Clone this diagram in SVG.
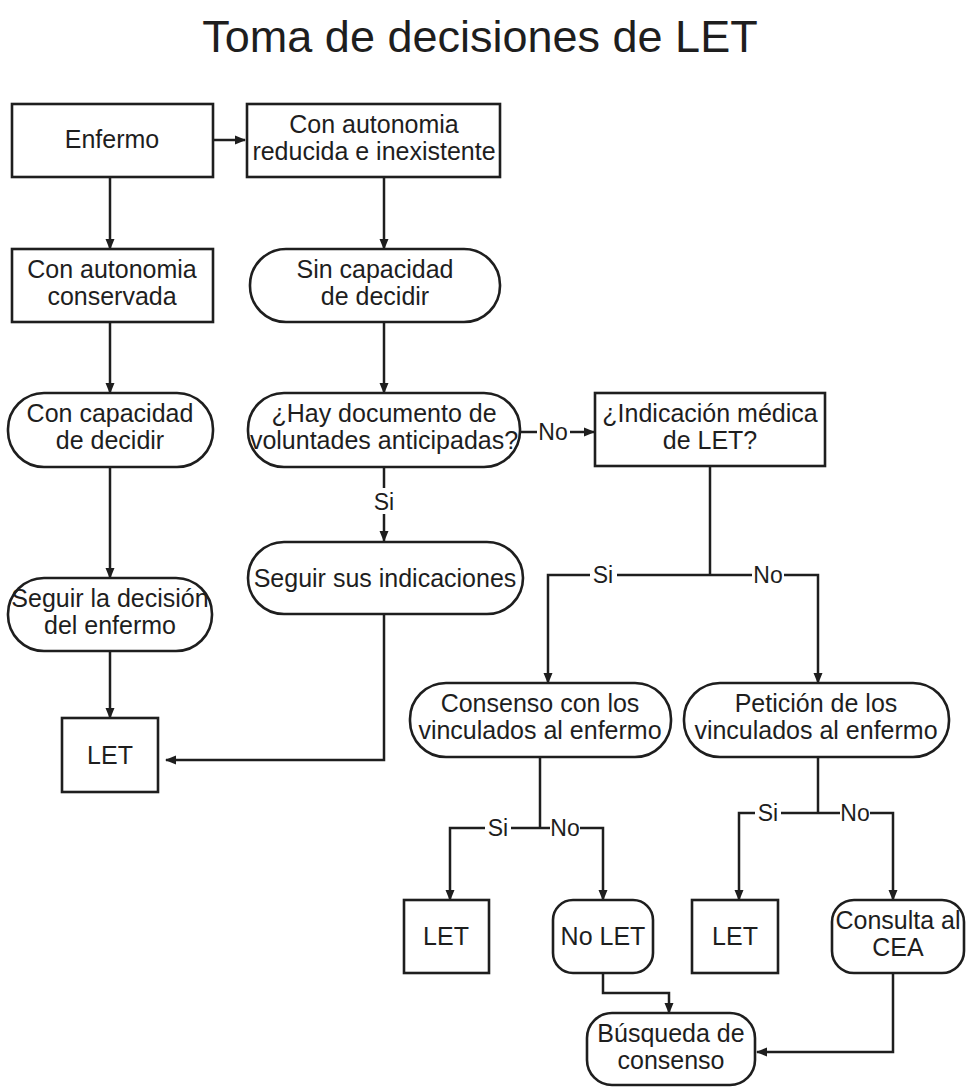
<svg xmlns="http://www.w3.org/2000/svg" width="970" height="1087" viewBox="0 0 970 1087">
<defs>
<marker id="arr" markerWidth="11" markerHeight="11" refX="10" refY="5.5" orient="auto" markerUnits="userSpaceOnUse">
<path d="M0,1 L11,5.5 L0,10 Z" fill="#1e1e1e"/>
</marker>
<style>
.box{fill:#ffffff;stroke:#1e1e1e;stroke-width:2.6}
.t{font-family:"Liberation Sans",Arial,sans-serif;font-size:25px;fill:#1e1e1e;text-anchor:middle}
.l{font-family:"Liberation Sans",Arial,sans-serif;font-size:23px;fill:#1e1e1e;text-anchor:middle}
.c{fill:none;stroke:#1e1e1e;stroke-width:2.5}
.title{font-family:"Liberation Sans",Arial,sans-serif;font-size:45px;fill:#1e1e1e;text-anchor:middle}
</style>
</defs>
<rect width="970" height="1087" fill="#ffffff"/>
<text class="title" x="480" y="52">Toma de decisiones de LET</text>

<g id="connectors">
<path class="c" d="M213,140 H245" marker-end="url(#arr)"/>
<path class="c" d="M110,177 V249" marker-end="url(#arr)"/>
<path class="c" d="M384,177 V249" marker-end="url(#arr)"/>
<path class="c" d="M110,322 V393" marker-end="url(#arr)"/>
<path class="c" d="M384,322 V393" marker-end="url(#arr)"/>
<path class="c" d="M110,467 V578" marker-end="url(#arr)"/>
<path class="c" d="M110,651 V718" marker-end="url(#arr)"/>
<path class="c" d="M384,467 V488"/>
<path class="c" d="M384,514 V541" marker-end="url(#arr)"/>
<text class="l" x="384" y="510">Si</text>
<path class="c" d="M520,432 H537"/>
<path class="c" d="M570,432 H594" marker-end="url(#arr)"/>
<text class="l" x="553" y="440">No</text>
<path class="c" d="M384,614 V760 H166" marker-end="url(#arr)"/>
<path class="c" d="M710,466 V575"/>
<path class="c" d="M590,575 H548 V683" marker-end="url(#arr)"/>
<path class="c" d="M617,575 H752"/>
<path class="c" d="M784,575 H818 V683" marker-end="url(#arr)"/>
<text class="l" x="603" y="583">Si</text>
<text class="l" x="768" y="583">No</text>
<path class="c" d="M540,757 V828"/>
<path class="c" d="M485,828 H450 V900" marker-end="url(#arr)"/>
<path class="c" d="M511,828 H550"/>
<path class="c" d="M580,828 H603 V900" marker-end="url(#arr)"/>
<text class="l" x="498" y="836">Si</text>
<text class="l" x="565" y="836">No</text>
<path class="c" d="M818,757 V813"/>
<path class="c" d="M755,813 H739 V900" marker-end="url(#arr)"/>
<path class="c" d="M781,813 H840"/>
<path class="c" d="M870,813 H893 V900" marker-end="url(#arr)"/>
<text class="l" x="768" y="821">Si</text>
<text class="l" x="855" y="821">No</text>
<path class="c" d="M603,973 V993 H669 V1013" marker-end="url(#arr)"/>
<path class="c" d="M893,973 V1052 H757" marker-end="url(#arr)"/>
</g>

<g id="n-enfermo">
<rect class="box" x="12" y="104" width="201" height="73"/>
<text class="t" x="112" y="148">Enfermo</text>
</g>
<g id="n-reducida">
<rect class="box" x="247" y="104" width="253" height="73"/>
<text class="t" x="374" y="133">Con autonomia</text>
<text class="t" x="374" y="160">reducida e inexistente</text>
</g>
<g id="n-conservada">
<rect class="box" x="12" y="249" width="201" height="73"/>
<text class="t" x="112" y="278">Con autonomia</text>
<text class="t" x="112" y="305">conservada</text>
</g>
<g id="n-sincapacidad">
<rect class="box" x="250" y="249" width="250" height="73" rx="36"/>
<text class="t" x="375" y="278">Sin capacidad</text>
<text class="t" x="375" y="305">de decidir</text>
</g>
<g id="n-concapacidad">
<rect class="box" x="8" y="393" width="205" height="74" rx="36"/>
<text class="t" x="110" y="422">Con capacidad</text>
<text class="t" x="110" y="449">de decidir</text>
</g>
<g id="n-documento">
<rect class="box" x="248" y="393" width="272" height="74" rx="36"/>
<text class="t" x="384" y="422">¿Hay documento de</text>
<text class="t" x="384" y="449">voluntades anticipadas?</text>
</g>
<g id="n-indicacion">
<rect class="box" x="595" y="393" width="230" height="73"/>
<text class="t" x="710" y="422">¿Indicación médica</text>
<text class="t" x="710" y="449">de LET?</text>
</g>
<g id="n-seguir-indicaciones">
<rect class="box" x="248" y="542" width="275" height="72" rx="36"/>
<text class="t" x="385" y="587">Seguir sus indicaciones</text>
</g>
<g id="n-seguir-decision">
<rect class="box" x="8" y="578" width="204" height="73" rx="36"/>
<text class="t" x="110" y="607">Seguir la decisión</text>
<text class="t" x="110" y="634">del enfermo</text>
</g>
<g id="n-let1">
<rect class="box" x="62" y="718" width="96" height="74"/>
<text class="t" x="110" y="764">LET</text>
</g>
<g id="n-consenso">
<rect class="box" x="410" y="683" width="261" height="74" rx="36"/>
<text class="t" x="540" y="712">Consenso con los</text>
<text class="t" x="540" y="739">vinculados al enfermo</text>
</g>
<g id="n-peticion">
<rect class="box" x="684" y="683" width="265" height="74" rx="36"/>
<text class="t" x="816" y="712">Petición de los</text>
<text class="t" x="816" y="739">vinculados al enfermo</text>
</g>
<g id="n-let2">
<rect class="box" x="404" y="900" width="85" height="73"/>
<text class="t" x="446" y="945">LET</text>
</g>
<g id="n-nolet">
<rect class="box" x="553" y="900" width="100" height="73" rx="20"/>
<text class="t" x="603" y="945">No LET</text>
</g>
<g id="n-let3">
<rect class="box" x="692" y="900" width="86" height="73"/>
<text class="t" x="735" y="945">LET</text>
</g>
<g id="n-cea">
<rect class="box" x="832" y="900" width="132" height="73" rx="22"/>
<text class="t" x="898" y="929">Consulta al</text>
<text class="t" x="898" y="956">CEA</text>
</g>
<g id="n-busqueda">
<rect class="box" x="587" y="1013" width="168" height="72" rx="25"/>
<text class="t" x="671" y="1042">Búsqueda de</text>
<text class="t" x="671" y="1069">consenso</text>
</g>
</svg>
